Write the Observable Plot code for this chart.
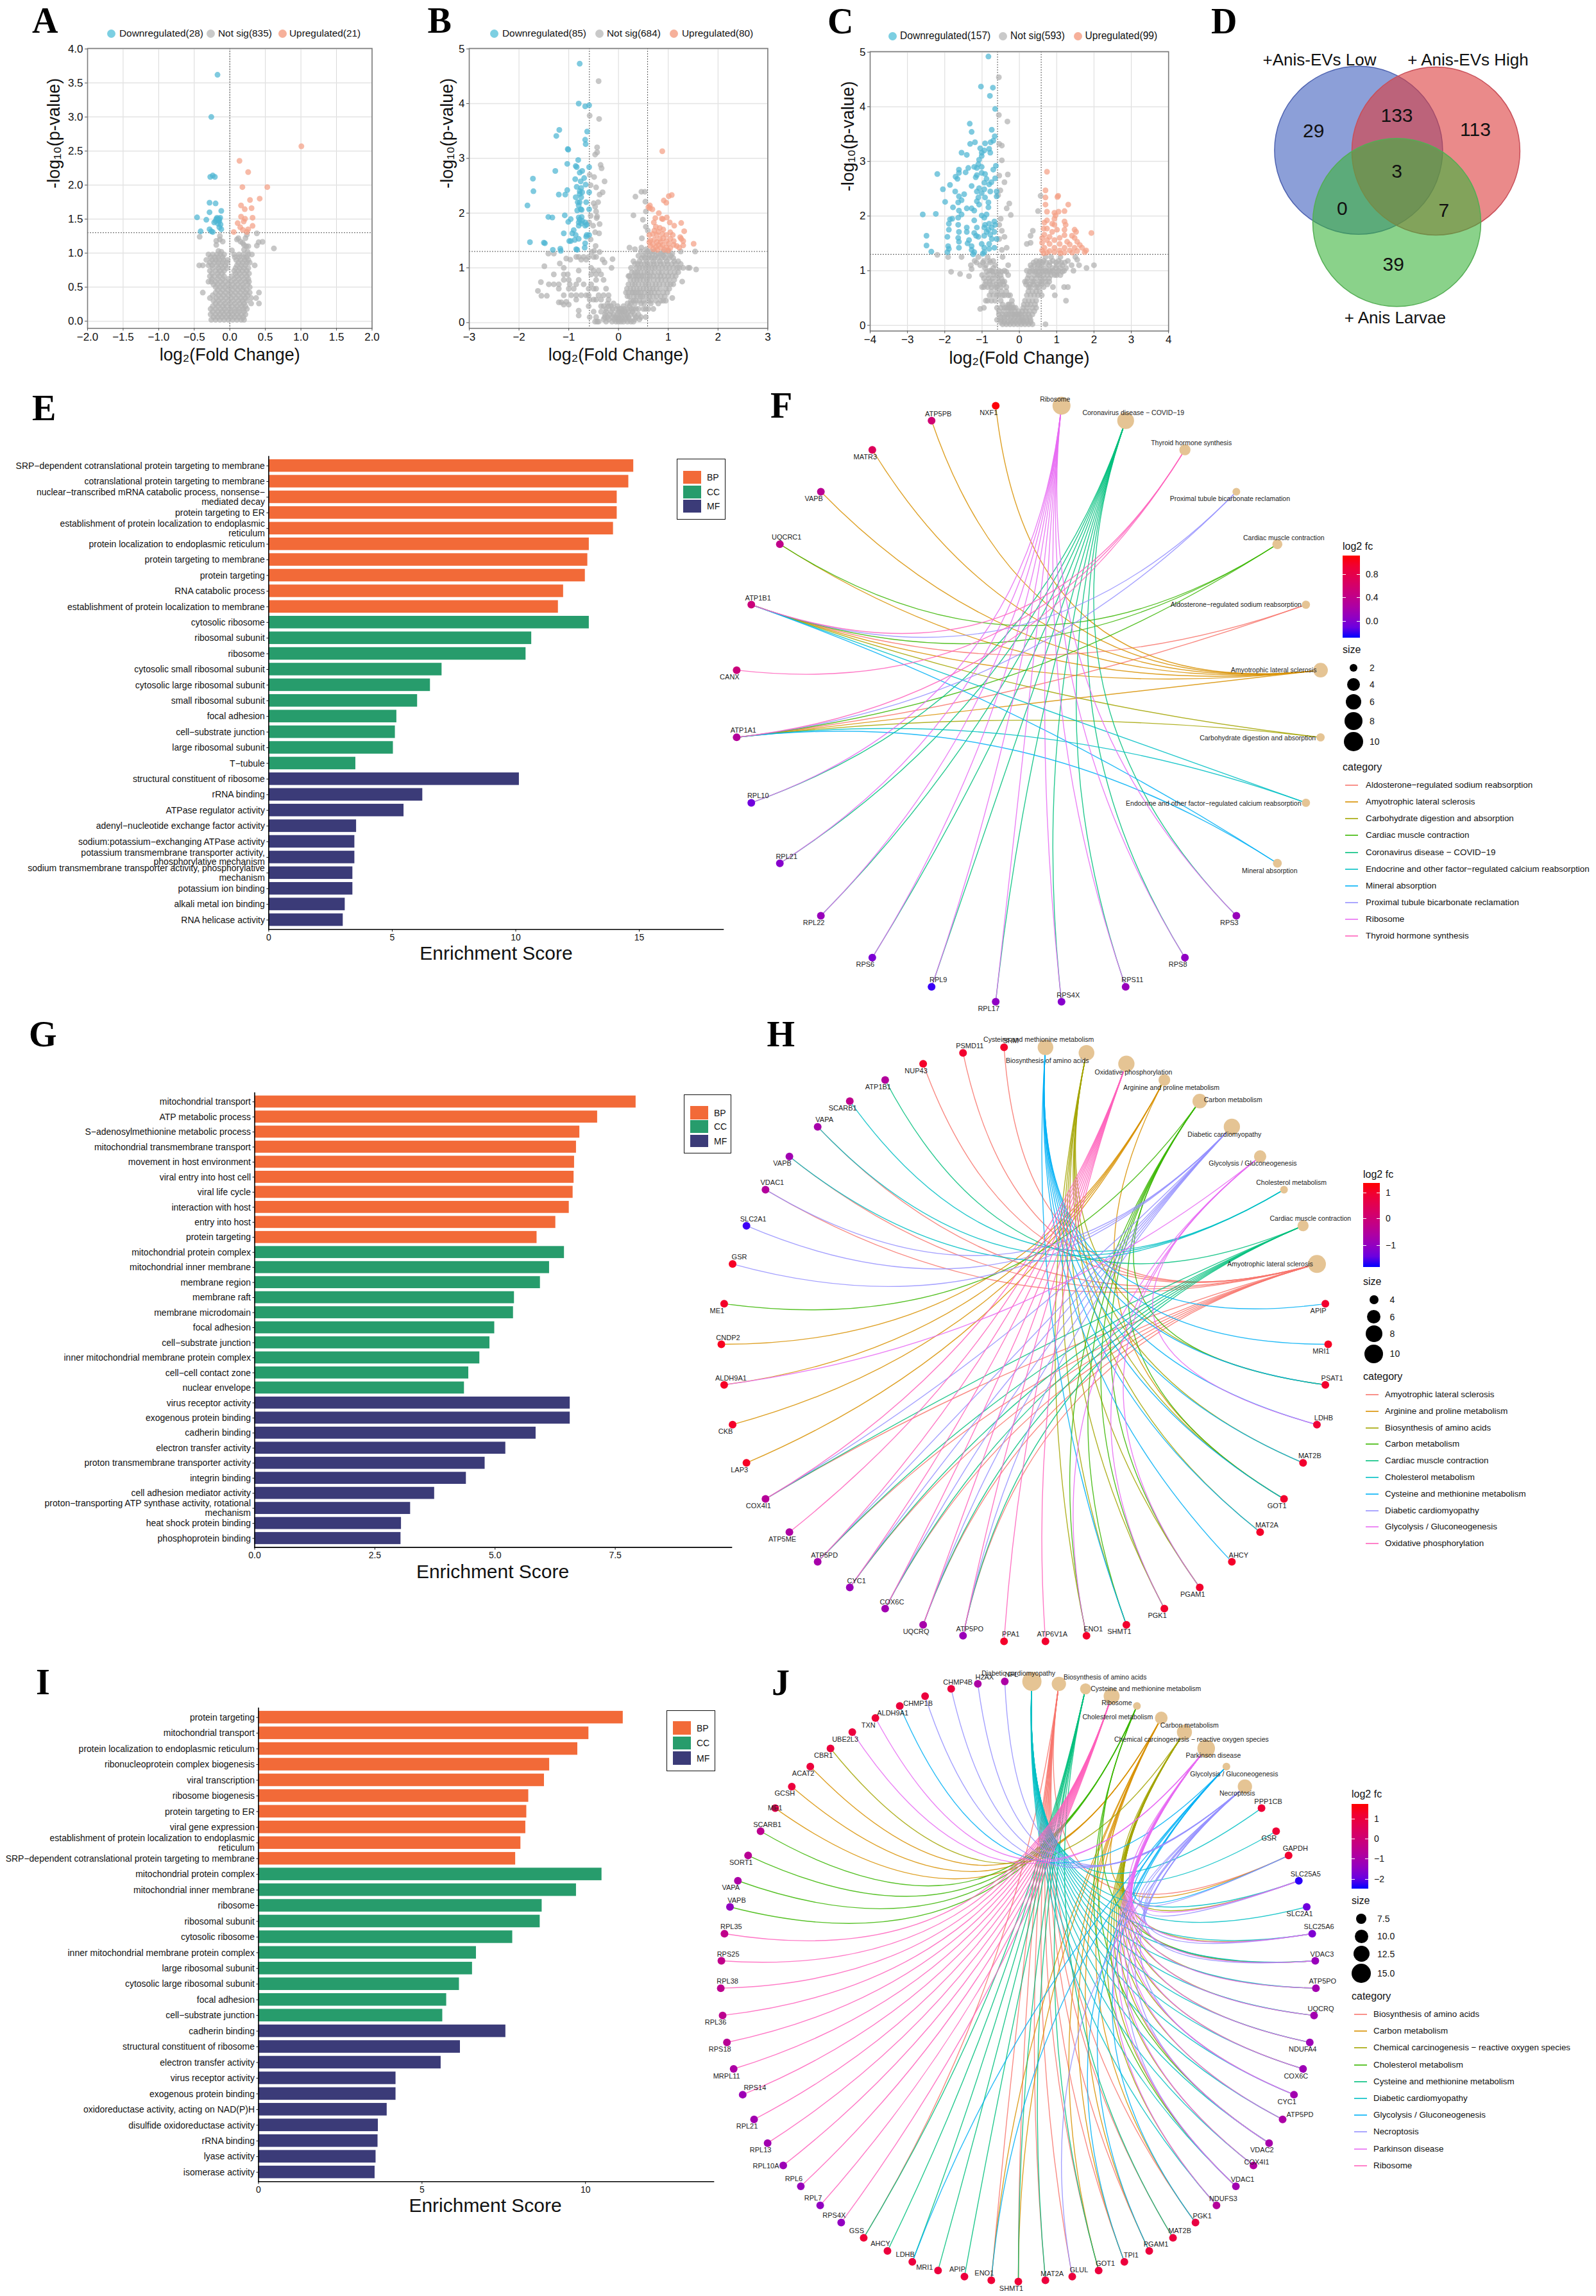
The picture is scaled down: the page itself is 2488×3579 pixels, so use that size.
<!DOCTYPE html>
<html><head><meta charset="utf-8">
<script src="https://cdn.jsdelivr.net/npm/d3@7"></script>
<script src="https://cdn.jsdelivr.net/npm/@observablehq/plot@0.6"></script>
<style>html,body{margin:0;background:#fff}#fig{position:relative;width:2488px;height:3579px;overflow:hidden;font-family:"Liberation Sans",Arial,sans-serif;color:#111}</style>
</head><body><div id="fig"></div>
<script>
// ---------- volcano data: flat x,y pairs ----------
const A_down=[-.173,3.62,-.26,3,-.275,2.12,-.24,2.14,-.21,2.12,-.285,1.74,-.2,1.73,-.285,1.6,-.12,1.62,-.46,1.525,-.33,1.49,-.18,1.52,-.135,1.52,-.2,1.47,-.147,1.47,-.17,1.5,-.22,1.45,-.165,1.43,-.13,1.42,-.147,1.38,-.12,1.35,-.41,1.32,-.285,1.35,-.26,1.32,-.24,1.31,-.16,1.48,-.19,1.5,-.15,1.5];
const A_up=[1.006,2.57,.136,2.355,.258,2.19,.177,1.97,.527,1.97,.42,1.8,.284,1.78,.158,1.7,.21,1.645,.306,1.66,.32,1.52,.158,1.535,.214,1.505,.195,1.465,.11,1.44,.147,1.38,.32,1.4,.184,1.34,.258,1.35,.24,1.31,.055,1.31];
const A_ns_sparse=[-.424,1.24,.38,1.29,.62,1.07,.38,1.11,.405,1.16,.46,1.165,.1,1.2,.12,1.22,.15,1.17,.18,1.15,.2,1.12,.23,1.1,.26,1.1,.22,1.22,.24,1.27,-.19,1.18,-.14,1.2,-.1,1.17,-.19,1.12,-.14,1.25,-.16,1.03,-.12,1.02,.03,1.04,.2,1.05,.25,1.02];
const A_ns_rows=[[.02,-.26,-.2,-.14,-.08,-.02,.04,.1,.16,.2],[.1,-.27,-.2,-.14,-.08,-.02,.04,.1,.16,.22],[.18,-.27,-.2,-.13,-.07,0,.07,.13,.19,.24],[.26,-.2,-.14,-.07,0,.07,.14,.2,.3,.41],[.34,-.28,-.19,-.12,-.05,.02,.09,.16,.22,.37,.3],[.42,-.38,-.2,-.13,-.06,.01,.08,.15,.22,.41,.28],[.5,-.2,-.14,-.07,0,.07,.14,.2,.28],[.58,-.3,-.26,-.2,-.13,-.06,.01,.08,.15,.22,.27],[.66,-.28,-.22,-.15,-.08,.03,.1,.17,.24],[.74,-.28,-.2,-.14,-.08,.06,.12,.18,.24],[.82,-.43,-.38,-.3,-.25,-.18,-.12,-.06,.1,.16,.22,.35],[.9,-.33,-.25,-.2,-.15,-.09,-.03,.09,.15,.21,.26],[.98,-.3,-.24,-.18,-.13,-.08,.06,.13,.19,.26,.31],
[.06,-.23,-.17,-.11,-.05,.01,.07,.13,.19],[.14,-.24,-.17,-.11,-.05,.01,.07,.13,.2],[.22,-.24,-.17,-.1,-.04,.03,.1,.17,.22],[.3,-.23,-.16,-.09,-.02,.05,.12,.18,.24],[.38,-.24,-.16,-.09,-.02,.05,.12,.19,.25],[.46,-.17,-.1,-.03,.04,.11,.18,.24],[.54,-.23,-.17,-.1,-.03,.04,.11,.18,.25],[.62,-.25,-.17,-.1,-.02,.06,.13,.2,.26],[.7,-.25,-.17,-.11,.08,.14,.21,.27],[.78,-.24,-.16,-.1,-.04,.08,.14,.2,.26],[.86,-.28,-.22,-.16,-.1,-.04,.12,.18,.24,.28],[.94,-.27,-.21,-.16,-.1,.07,.13,.2,.24]];

const B_down=[-.78,4.73,-.8,4,-.67,3.95,-.59,3.97,-1.19,3.52,-1.25,3.41,-.63,3.49,-.67,3.34,-.66,3.26,-1.02,3.17,-1.01,3.16,-.81,2.97,-1.03,2.9,-.86,2.86,-.84,2.84,-.59,2.84,-1.27,2.77,-.73,2.77,-.78,2.74,-1.72,2.63,-.87,2.62,-.69,2.64,-.76,2.58,-.66,2.52,-.84,2.48,-.75,2.46,-1.71,2.4,-1.03,2.42,-.59,2.38,-.78,2.4,-.73,2.38,-.78,2.35,-1.2,2.34,-1.07,2.34,-.86,2.29,-.75,2.29,-.78,2.2,-.65,2.2,-.82,2.2,-1.83,2.14,-.8,2.14,-.76,2.07,-.83,2.05,-.74,2.06,-.59,2.07,-1.41,1.93,-1.33,1.92,-1.08,1.96,-1.01,1.84,-.96,1.89,-.8,1.92,-.74,1.93,-.78,1.88,-.8,1.83,-.73,1.86,-.67,1.83,-.75,1.81,-.67,1.77,-.64,1.79,-.8,1.77,-.9,1.69,-1.1,1.63,-.93,1.63,-.86,1.6,-.64,1.6,-.59,1.6,-.65,1.57,-.99,1.49,-.96,1.49,-.88,1.51,-.8,1.53,-.67,1.45,-1.78,1.47,-1.5,1.46,-1.48,1.45,-.68,1.37,-.85,1.34,-.83,1.33,-1.17,1.35,-1.16,1.31,-1.32,1.33];
const B_up=[.88,3.13,1.07,2.33,1.01,2.31,.91,2.23,.96,2.19,.63,2.14,.6,2.11,.68,2.07,.63,2.09,.81,2,.97,1.92,.89,1.89,.87,1.9,.74,1.91,1.03,1.83,.71,1.83,1.12,1.77,1.26,1.82,1.32,1.67,.75,1.75,.83,1.73,.9,1.7,.72,1.68,.8,1.66,1.04,1.65,.69,1.62,.77,1.6,.88,1.62,.96,1.6,1.09,1.6,.62,1.6,1.24,1.56,1.26,1.53,1.3,1.49,1.11,1.49,1.04,1.53,.9,1.54,.83,1.53,.72,1.52,.64,1.5,.77,1.47,.85,1.47,.96,1.49,.62,1.47,.69,1.43,.8,1.42,.89,1.42,1.01,1.44,1.51,1.44,1.3,1.41,1.17,1.4,1.22,1.37,.75,1.38,.85,1.37,.96,1.38,1.04,1.36,.64,1.4,1.11,1.42,.7,1.34,.78,1.33,.92,1.33,1,1.32];
const B_ns_sparse=[-.4,4.41,-.58,3.78,-.39,3.72,-.43,3.2,-.43,3.11,-.47,3.07,-.36,2.88,-.34,2.82,-.58,2.7,-.49,2.66,-.28,2.58,-.56,2.51,-.45,2.47,-.32,2.38,-.38,2.34,-.5,2.18,-.41,2.2,-.47,2.12,-.45,2.03,-.43,1.94,-.44,1.91,-.56,1.95,-.59,1.83,-.51,1.77,-.38,1.8,-.47,1.65,-.39,1.63,-.56,1.52,-.46,1.4,-.49,1.31,-.38,1.29,-.54,1.29,.46,2.39,.53,2.39,.34,2.3,.54,2.21,.55,2.03,.3,1.96,.49,1.88,.55,1.75,.59,1.68,.47,1.54,.22,1.37,.33,1.34,.46,1.37,.56,1.34,-1.41,1.26,-1.3,1.26,-1.49,1.03,-1.56,.74,-1.62,.58,-1.55,.49,-1.44,.49,-1.18,1.08,-1.05,1.17,-.97,1.15,-.28,1.1,-.12,1.16,-.14,1,-1.15,.37,-1.2,.37,-1.1,.33,-1.05,.38,-1,.33,-.8,.22,-.8,.13,1.54,1.3,1.56,.97,1.43,1,1.28,.75,1.08,.45];
const B_ns_rows=[[1.2,-.85,-.8,-.7,-.6,-.5,-.45],[1.15,-.75,-.65,-.32],[1,-1.1,-.55],[.95,-.8,-.5,-.4],[.88,-1.3,-1.1,-1.02,-.55,-.35,-.45],[.78,-1.1,-1,-.8,-.45,-.3],[.7,-1.4,-1.3,-1.2,-.98,-.85,-.7,-.55],[.62,-1.2,-1,-.9,-.6,-.5,-.45,-.25],[.5,-1.1,-.95,-.85,-.75,-.65,-.6,-.4,-.3,-.2],[.42,-.85,-.58,-.5,-.45,-.35,-.2],[.3,-.6,-.35,-.3,-.2,-.15,-.02,.1,.22],[.2,-.5,-.35,-.25,-.15,0,.03,.08,.13,.2,.28],[.1,-.58,-.45,-.28,-.22,-.12,-.05,0,.05,.15,.2,.35,.45,.55],[.02,-.47,-.43,-.4,-.25,-.13,-.05,0,.05,.1,.18,.25,.3],[.25,.3,.35,.4,.5,.55,.6,.7],[.4,.25,.3,.35,.42,.5,.6,.65,.75,.85,.9,.95],[.55,.15,.2,.27,.3,.35,.4,.45,.52,.6,.65,.72,.8,.9,.98],[.7,.2,.28,.33,.4,.48,.55,.6,.68,.75,.82,.9,.98,1.05,1.1],[.85,.2,.22,.3,.35,.4,.46,.5,.58,.63,.7,.78,.85,.92,1,1.08,1.15],[1,.25,.36,.42,.48,.55,.6,.67,.73,.8,.88,.95,1.02,1.1,1.18,1.22,1.3,1.4],[1.12,.3,.42,.56,.7,.83,.97,1.12,1.2],[1.22,.5,.62,.75,.9,1.05,.4],[1.3,.65,.58,.72,.9,1,1.25,.45],
[.15,-.27,-.18,-.1,-.03,.06,.11,.17,.25,.32,.4],[.06,-.3,-.2,-.09,-.02,.03,.08,.14,.22,.33,.42],[.25,-.25,-.12,-.05,.02,.06,.12,.18,.26],[.35,-.22,-.1,.18,.25,.33,.45,.52,.65,.8],[.48,.18,.22,.31,.37,.44,.48,.56,.62,.69,.77,.85,.93],[.62,.17,.24,.3,.37,.43,.5,.56,.63,.69,.76,.84,.95,1.02],[.78,.24,.31,.37,.43,.5,.57,.62,.71,.79,.86,.94,1.02,1.12],[.92,.27,.33,.38,.44,.52,.58,.65,.72,.81,.87,.96,1.04,1.13,1.2],[1.07,.33,.39,.45,.52,.58,.64,.71,.77,.85,.91,.99,1.07,1.15,1.25],[1.18,.47,.53,.6,.66,.72,.79,.87,.94,1.02,1.1],[1.26,.55,.68,.8,.85,.95,1.08]];

const C_down=[-.83,4.92,-1.03,4.37,-.71,4.35,-.79,4.2,-.65,3.96,-1.33,3.69,-1.28,3.54,-.74,3.58,-.66,3.46,-.7,3.38,-.77,3.35,-1.19,3.35,-1.32,3.32,-.92,3.33,-1.05,3.24,-.94,3.2,-1.01,3.16,-.81,3.23,-.78,3.16,-1.55,3.16,-1.41,3.12,-1.01,3.1,-1.08,3.03,-1.1,2.95,-1.21,2.9,-1.14,2.88,-1.37,2.88,-1.62,2.85,-1.01,2.9,-.63,2.92,-.7,2.85,-1.44,2.8,-2.2,2.77,-1.62,2.79,-1.71,2.72,-1.66,2.68,-1.14,2.75,-1.01,2.79,-.92,2.77,-1.17,2.71,-.88,2.68,-.65,2.69,-.75,2.62,-.94,2.61,-.81,2.58,-1.86,2.57,-1.08,2.51,-1.28,2.55,-2.05,2.49,-1.72,2.45,-.94,2.49,-1.01,2.42,-.78,2.45,-.61,2.45,-1.14,2.45,-1.48,2.4,-1.62,2.36,-1.55,2.29,-1.1,2.34,-.92,2.34,-.61,2.36,-1.99,2.26,-1.64,2.25,-1.14,2.27,-.83,2.25,-1.78,2.16,-.83,2.16,-1.08,2.21,-2.59,2.03,-2.24,2.04,-1.41,2.14,-1.28,2.14,-1.62,2.1,-1.21,2.1,-1.55,2.03,-1.01,2.01,-.88,2.03,-1.64,1.97,-.94,1.97,-1.21,1.92,-1.86,1.94,-1.8,1.95,-1.89,1.86,-.67,1.9,-1.64,1.84,-.81,1.86,-.92,1.84,-.65,1.84,-.74,1.79,-1.89,1.75,-1.41,1.79,-1.14,1.79,-.94,1.79,-.83,1.75,-1.62,1.71,-1.41,1.71,-1.21,1.69,-.88,1.71,-.67,1.71,-1.16,1.64,-1.1,1.62,-.94,1.64,-.78,1.66,-2.49,1.64,-1.93,1.62,-1.64,1.6,-1.35,1.56,-.74,1.58,-.61,1.58,-1.62,1.53,-1.01,1.49,-.81,1.49,-2.49,1.46,-1.91,1.45,-1.39,1.5,-1.28,1.45,-1.89,1.4,-1.62,1.42,-.94,1.42,-.67,1.42,-2.36,1.35,-1.93,1.34,-1.28,1.38,-1.21,1.34,-.94,1.34,-.81,1.4,-1.24,1.3,-.98,1.31];
const C_up=[.74,2.81,.7,2.47,1.04,2.37,1.02,2.35,1.31,2.21,.7,2.34,.7,2.21,1.21,2.09,1.05,2.08,.94,2.06,.74,2.08,.97,2.01,.94,1.95,.74,1.92,1.21,1.9,.67,1.88,.88,1.86,1.24,1.84,.94,1.84,.65,1.77,1.48,1.75,1.52,1.71,1.93,1.69,.74,1.77,1.01,1.75,1.21,1.75,.88,1.71,.67,1.66,1.21,1.65,1.41,1.64,1.48,1.6,.81,1.62,1.08,1.6,.61,1.6,.74,1.56,.94,1.56,1.28,1.53,1.55,1.53,.61,1.51,.81,1.49,1.08,1.49,1.35,1.48,1.62,1.47,.67,1.42,.94,1.42,1.21,1.42,1.48,1.42,1.68,1.42,.61,1.37,.81,1.36,1.08,1.37,1.35,1.37,1.55,1.36,1.79,1.37,.74,1.33,1.21,1.33,1.75,1.34,.94,1.34,1.1,1.32,1.42,1.33,.65,1.32];
const C_ns_sparse=[-.55,4.54,-.55,3.85,-.32,3.73,-.54,3.32,-.47,3.29,-.47,3.02,-.31,2.76,-.54,2.74,-.4,2.62,-.51,2.47,-.57,2.38,.57,2.37,-.27,2.23,-.34,2.14,.5,2.09,-.23,2.02,-.5,1.95,-.54,1.84,-.47,1.73,-.4,1.62,-.54,1.58,.3,1.64,.36,1.73,.2,1.49,.3,1.51,-.34,1.42,-.47,1.38,-2.2,1.29,-1.91,1.25,-1.55,1.25,-1.83,.98,-1.59,.94,-1.28,1.03,-1.35,.9,2,1.1,1.8,1.05,1.6,1.1,1.55,1.2,1.25,.45,.7,.02,-1.05,.3];
const C_ns_rows=[[1.25,-1.1,-.85,-.45,.7,.85,1.1,1.5],[1.18,-1.2,-.95,-.8,-.7,.45,.55,.65,.9,1.05,1.3],[1.1,-1.3,-1.05,-.9,-.65,-.3,.3,.4,.5,.6,.8,1,1.15,1.4],[1,-.8,-.75,-.55,-.4,.2,.35,.45,.6,.7,.8,.9,1.05,1.2,1.45],[.92,-1,-.85,-.7,-.6,-.5,-.3,.25,.4,.5,.55,.65,.75,.85,.95,1,1.1],[.8,-.9,-.8,-.7,-.55,-.45,-.4,.15,.2,.35,.4,.55,.6,.7,.8],[.7,-1,-.95,-.85,-.75,-.65,-.6,-.5,-.35,.25,.3,.45,.5,.65,.9,1.2,1.3],[.55,-.8,-.7,-.6,-.55,-.45,-.4,-.3,-.25,.2,.3,.4,.5,.6,.95],[.45,-.9,-.85,-.75,-.65,-.5,-.2,.15,.25,.35,.45],[.32,-.95,-.6,-.5,-.4,-.35,-.3,-.25,-.2,-.15,-.1,.1,.2,.35,.45],[.2,-.55,-.45,-.35,-.3,-.2,-.15,-.1,-.05,0,.05,.15,.25,.35],[.1,-.6,-.5,-.4,-.25,-.15,-.05,.05,.1,.2,.3],[.02,-.45,-.35,-.25,-.15,-.05,.05,.15,.25,.35],
[.26,-.55,-.42,-.28,-.22,-.12,-.02,.08,.17,.27,.4],[.15,-.5,-.4,-.32,-.22,-.12,-.02,.07,.18,.28],[.06,-.5,-.4,-.3,-.2,-.1,0,.1,.2,.3],[.38,-.45,-.3,-.27,-.2,.12,.22,.3,.42],[.62,-.75,-.6,-.48,-.35,.24,.35,.45,.55],[.75,-.92,-.78,-.62,-.52,-.42,.18,.28,.38,.5,.6,.75],[.86,-.95,-.82,-.72,-.58,-.48,.22,.33,.45,.58,.68,.8],[.98,-.88,-.72,-.62,-.48,-.35,.28,.42,.52,.63,.75,.85,1,1.15],[1.05,-.92,-.7,.32,.48,.58,.72,.88,.98,1.1,1.25],[1.15,-1.15,-.98,-.78,.38,.52,.62,.72,.82,.98,1.12,1.22]];

// ---------- Venn ----------
const venn_sets=["+Anis-EVs Low","+ Anis-EVs High","+ Anis Larvae"];
const venn_counts=["29","133","113","3","0","7","39"];

// ---------- enrichment bars ----------
const E_terms=["SRP−dependent cotranslational protein targeting to membrane","cotranslational protein targeting to membrane","nuclear−transcribed mRNA catabolic process, nonsense−\nmediated decay","protein targeting to ER","establishment of protein localization to endoplasmic\nreticulum","protein localization to endoplasmic reticulum","protein targeting to membrane","protein targeting","RNA catabolic process","establishment of protein localization to membrane","cytosolic ribosome","ribosomal subunit","ribosome","cytosolic small ribosomal subunit","cytosolic large ribosomal subunit","small ribosomal subunit","focal adhesion","cell−substrate junction","large ribosomal subunit","T−tubule","structural constituent of ribosome","rRNA binding","ATPase regulator activity","adenyl−nucleotide exchange factor activity","sodium:potassium−exchanging ATPase activity","potassium transmembrane transporter activity,\nphosphorylative mechanism","sodium transmembrane transporter activity, phosphorylative\nmechanism","potassium ion binding","alkali metal ion binding","RNA helicase activity"];
const E_scores=[14.77,14.57,14.1,14.1,13.95,12.97,12.91,12.81,11.93,11.72,12.97,10.64,10.41,7.01,6.54,6.02,5.18,5.12,5.04,3.52,10.14,6.23,5.47,3.55,3.48,3.48,3.4,3.4,3.09,3.01];
const G_terms=["mitochondrial transport","ATP metabolic process","S−adenosylmethionine metabolic process","mitochondrial transmembrane transport","movement in host environment","viral entry into host cell","viral life cycle","interaction with host","entry into host","protein targeting","mitochondrial protein complex","mitochondrial inner membrane","membrane region","membrane raft","membrane microdomain","focal adhesion","cell−substrate junction","inner mitochondrial membrane protein complex","cell−cell contact zone","nuclear envelope","virus receptor activity","exogenous protein binding","cadherin binding","electron transfer activity","proton transmembrane transporter activity","integrin binding","cell adhesion mediator activity","proton−transporting ATP synthase activity, rotational\nmechanism","heat shock protein binding","phosphoprotein binding"];
const G_scores=[7.93,7.13,6.76,6.69,6.65,6.64,6.62,6.54,6.26,5.87,6.44,6.13,5.94,5.4,5.38,4.99,4.89,4.68,4.45,4.36,6.56,6.56,5.85,5.22,4.79,4.4,3.74,3.24,3.05,3.04];
const I_terms=["protein targeting","mitochondrial transport","protein localization to endoplasmic reticulum","ribonucleoprotein complex biogenesis","viral transcription","ribosome biogenesis","protein targeting to ER","viral gene expression","establishment of protein localization to endoplasmic\nreticulum","SRP−dependent cotranslational protein targeting to membrane","mitochondrial protein complex","mitochondrial inner membrane","ribosome","ribosomal subunit","cytosolic ribosome","inner mitochondrial membrane protein complex","large ribosomal subunit","cytosolic large ribosomal subunit","focal adhesion","cell−substrate junction","cadherin binding","structural constituent of ribosome","electron transfer activity","virus receptor activity","exogenous protein binding","oxidoreductase activity, acting on NAD(P)H","disulfide oxidoreductase activity","rRNA binding","lyase activity","isomerase activity"];
const I_scores=[11.15,10.1,9.76,8.9,8.74,8.26,8.2,8.17,8.02,7.86,10.5,9.72,8.67,8.61,7.77,6.66,6.54,6.14,5.75,5.63,7.56,6.17,5.58,4.2,4.2,3.93,3.66,3.65,3.59,3.56];
const ontology=["BP","CC","MF"];
const ontology_colors=["#F26A38","#279C6C","#3B3B78"];

// ---------- gene-concept networks (clockwise from the top) ----------
const hue=["#F8766D","#D89000","#A3A500","#39B600","#00BF7D","#00BFC4","#00B0F6","#9590FF","#E76BF3","#FF62BC"];
const F_legend=["Aldosterone−regulated sodium reabsorption","Amyotrophic lateral sclerosis","Carbohydrate digestion and absorption","Cardiac muscle contraction","Coronavirus disease − COVID−19","Endocrine and other factor−regulated calcium reabsorption","Mineral absorption","Proximal tubule bicarbonate reclamation","Ribosome","Thyroid hormone synthesis"];
const F_cats=["Ribosome","Coronavirus disease − COVID−19","Thyroid hormone synthesis","Proximal tubule bicarbonate reclamation","Cardiac muscle contraction","Aldosterone−regulated sodium reabsorption","Amyotrophic lateral sclerosis","Carbohydrate digestion and absorption","Endocrine and other factor−regulated calcium reabsorption","Mineral absorption"];
const F_sizes=[10,9,4,1,3,1.5,7,1.5,1.5,2];
const F_genes=["RPS3","RPS8","RPS11","RPS4X","RPL17","RPL9","RPS6","RPL22","RPL21","RPL10","ATP1A1","CANX","ATP1B1","UQCRC1","VAPB","MATR3","ATP5PB","NXF1"];
const F_fc=[.1,.05,.1,0,.05,-.25,-.05,.1,0,-.1,.3,.5,.5,.4,.35,.7,.55,1.1];
const F_links=["01","01","01","01","01","01","01","01","01","01","23456789","2","23456789","46","6","6","6","6"];

const H_legend=["Amyotrophic lateral sclerosis","Arginine and proline metabolism","Biosynthesis of amino acids","Carbon metabolism","Cardiac muscle contraction","Cholesterol metabolism","Cysteine and methionine metabolism","Diabetic cardiomyopathy","Glycolysis / Gluconeogenesis","Oxidative phosphorylation"];
const H_cats=["Cysteine and methionine metabolism","Biosynthesis of amino acids","Oxidative phosphorylation","Arginine and proline metabolism","Carbon metabolism","Diabetic cardiomyopathy","Glycolysis / Gluconeogenesis","Cholesterol metabolism","Cardiac muscle contraction","Amyotrophic lateral sclerosis"];
const H_sizes=[8,8,8.5,4.5,7,8.5,5,1,4,10];
const H_genes=["APIP","MRI1","PSAT1","LDHB","MAT2B","GOT1","MAT2A","AHCY","PGAM1","PGK1","SHMT1","ENO1","ATP6V1A","PPA1","ATP5PO","UQCRQ","COX6C","CYC1","ATP5PD","ATP5ME","COX4I1","LAP3","CKB","ALDH9A1","CNDP2","ME1","GSR","SLC2A1","VDAC1","VAPB","VAPA","SCARB1","ATP1B1","NUP43","PSMD11","SRM"];
const H_fc=[1,1.1,1,.9,1,1,1.05,1.05,1,1,1,1.05,1,1.05,-.9,-.7,-.8,-.9,-.7,-.6,-.45,1.1,1.05,1.1,1.15,1.05,1.1,-1.7,-.5,-.8,-.7,-.3,-.5,1.05,1,1.05];
const H_links=["0","0","014","06","01","0134","01","0","146","146","014","146","2","2","2589","2589","2589","2589","2589","2","2589","3","3","36","3","4","5","5","59","79","79","7","8","9","9","9"];

const J_legend=["Biosynthesis of amino acids","Carbon metabolism","Chemical carcinogenesis − reactive oxygen species","Cholesterol metabolism","Cysteine and methionine metabolism","Diabetic cardiomyopathy","Glycolysis / Gluconeogenesis","Necroptosis","Parkinson disease","Ribosome"];
const J_cats=["Diabetic cardiomyopathy","Biosynthesis of amino acids","Cysteine and methionine metabolism","Ribosome","Cholesterol metabolism","Carbon metabolism","Chemical carcinogenesis − reactive oxygen species","Parkinson disease","Glycolysis / Gluconeogenesis","Necroptosis"];
const J_sizes=[15,9,5,11,1,7,10,13,1,9];
const J_genes=["PPP1CB","GSR","GAPDH","SLC25A5","SLC2A1","SLC25A6","VDAC3","ATP5PO","UQCRQ","NDUFA4","COX6C","CYC1","ATP5PD","VDAC2","COX4I1","VDAC1","NDUFS3","PGK1","MAT2B","PGAM1","TPI1","GOT1","GLUL","MAT2A","SHMT1","ENO1","APIP","MRI1","LDHB","AHCY","GSS","RPS4X","RPL7","RPL6","RPL10A","RPL13","RPL21","RPS14","MRPL11","RPS18","RPL36","RPL38","RPS25","RPL35","VAPB","VAPA","SORT1","SCARB1","ME1","GCSH","ACAT2","CBR1","UBE2L3","TXN","ALDH9A1","CHMP1B","CHMP4B","H2AX","NFL"];
const J_fc=[1.1,1.1,1.2,-2.4,-1.9,-1.7,-1.3,-1.1,-1.1,-1.2,-1.2,-1.1,-.9,-1,-.8,-1.1,-.7,.9,1,1,1,1,1,1,1.1,1.1,1,1,1,1,1.1,-1.4,-1.4,-1.3,-1.2,-1.1,-1.1,-1.2,-.9,-.6,-.5,-.5,-.4,-.4,-1.4,-.9,-.6,-.5,.7,1,1,1,1,1.1,1,1,1,-.9,-.9];
const J_links=["0","0","1589","0679","0","0679","06794","067","067","067","067","0679","067","06794","067","06794","067","158","12","158","158","125","19","12","125","158","2","2","28","2","12","3","3","3","3","3","3","3","3","3","3","3","3","3","4","4","4","4","5","5","5","6","7","7","8","9","9","9","9"];

// ---------- layout config (label placement, not data) ----------
const U=[10.5,-10.5],D=[-11,11],L=[-11,-11],C=[0,0];
const F_sides=[D,D,U,U,D,U,D,D,U,U,U,D,U,U,D,D,U,D];
const F_catLabel=[[-10,-10],[12,-12],[10,-11],[-10,11],[10,-10],[-109,0],[-73,0],[-98,1],[-144,1],[-12,12]];
const H_sides=[D,D,U,U,U,D,U,U,D,D,D,U,U,U,U,D,U,U,U,D,D,D,D,U,U,D,U,U,U,D,U,D,D,D,U,U];
const H_catLabel=[[-10.6,-12],[-61,12],[11,13],[11,12],[52,-2],[-11.5,12.5],[-11.5,11],[11.5,-11],[11.5,-11],[-73,0]];
const J_sides=[U,D,U,U,D,U,U,U,U,D,D,D,[27,-7],D,[5,-5],U,U,U,U,U,U,U,U,U,D,L,L,[-21,-5],L,L,L,L,L,L,[-27,1],D,D,[19,-11],D,D,D,U,U,U,U,D,D,U,C,D,D,D,D,D,D,D,U,U,U];
const J_catLabel=[[-21,-12],[72,-10],[94,0],[8,11],[-30,17],[44,12],[11,12],[11,11],[12,12],[-12,11]];

// ---------- helpers ----------
const fig=document.getElementById("fig");
const SANS='"Liberation Sans",Arial,sans-serif';
const pairs=a=>{const o=[];for(let i=0;i<a.length;i+=2)o.push([a[i],a[i+1]]);return o};
const rows=r=>r.flatMap(([y,...xs])=>xs.map(x=>[x,y]));
function txt(x,y,s,size,o={}){const d=document.createElement("div");d.textContent=s;
 d.style.cssText=`position:absolute;left:${x}px;top:${y}px;font-size:${size}px;white-space:nowrap;line-height:1;transform:translate(${o.center?"-50%":"0"},-50%);${o.css||""}`;fig.append(d);return d}
function box(x,y,w,h,css){const d=document.createElement("div");d.style.cssText=`position:absolute;left:${x}px;top:${y}px;width:${w}px;height:${h}px;box-sizing:border-box;${css}`;fig.append(d);return d}
function letter(s,x,base){const d=document.createElement("div");d.textContent=s;d.style.cssText=`position:absolute;left:${x}px;top:${base-47}px;font:bold 56px/1 "Liberation Serif",serif;color:#000`;fig.append(d)}
const place=(left,top)=>({position:"absolute",left:left+"px",top:top+"px",maxWidth:"none",background:"transparent",overflow:"visible",fontFamily:SANS,color:"#111"});

function volcano(c){
 const pl=95,pr=30,pt=20,pb=70;
 const th=[1.3];
 const dot=(d,fill)=>Plot.dot(d,{x:"0",y:"1",r:4.5,fill,fillOpacity:.72});
 const p=Plot.plot({width:c.right-c.left+pl+pr,height:c.bottom-c.top+pt+pb,marginLeft:pl,marginRight:pr,marginTop:pt,marginBottom:pb,
  x:{domain:c.xd},y:{domain:c.yd},style:place(c.left-pl,c.top-pt),
  marks:[
   Plot.gridX(c.xt,{stroke:"#d9d9d9",strokeOpacity:1}),
   Plot.gridY(c.yt,{stroke:"#e4e4e4",strokeOpacity:1,strokeWidth:1.5}),
   Plot.ruleY(th,{stroke:"#555",strokeDasharray:"2,2",strokeWidth:1}),
   Plot.ruleX(c.v,{stroke:"#555",strokeDasharray:"2,2",strokeWidth:1}),
   dot(c.ns,"#b2b2b2"),dot(c.down,"#4DB6D3"),dot(c.up,"#F4A085"),
   Plot.frame({stroke:"#7c7c7c",strokeWidth:1.6}),
   Plot.axisX(c.xt,{tickFormat:c.xf,fontSize:c.fs,tickSize:4,tickPadding:3,label:null,stroke:"#555",fill:"#111"}),
   Plot.axisY(c.yt,{tickFormat:c.yf,fontSize:c.fs,tickSize:4,tickPadding:3,label:null,stroke:"#555",fill:"#111"}),
   Plot.text(["log₂(Fold Change)"],{frameAnchor:"bottom",lineAnchor:"middle",dy:42,fontSize:c.ls,fill:"#111"}),
   Plot.text(["-log₁₀(p-value)"],{frameAnchor:"left",rotate:-90,dx:c.ydx,fontSize:c.ls,fill:"#111"})
  ]});
 fig.append(p);
 const cols=["#7ccfe2","#c9c9c9","#f6b09a"];
 c.leg.forEach(([cx,tx,s],i)=>{box(cx-6.5,c.legY-6.5,13,13,`border-radius:50%;background:${cols[i]}`);txt(tx,c.legY,s,c.legFs)});
}

function bars(c){
 const pt=20,pb=75,pl=c.x0,pr=30;
 const H=c.yb-c.yt;
 const d=c.terms.map((t,i)=>({t,v:c.scores[i],o:i<c.nb?"BP":i<c.nb+c.nc?"CC":"MF"}));
 const p=Plot.plot({width:c.xEnd-c.x0+pl+pr,height:H+pt+pb,marginLeft:pl,marginRight:pr,marginTop:pt,marginBottom:pb,
  x:{domain:[0,c.max]},y:{domain:c.terms,padding:.2,align:.5,round:false},
  color:{domain:ontology,range:ontology_colors},style:place(0,c.yt-pt),
  marks:[
   Plot.barX(d,{x:"v",y:"t",fill:"o"}),
   Plot.frame({anchor:"left",stroke:"#000",strokeWidth:1.6}),
   Plot.frame({anchor:"bottom",stroke:"#000",strokeWidth:1.6}),
   Plot.axisX(c.ticks,{tickFormat:c.fmt,fontSize:14,tickSize:4,tickPadding:3,label:null,fill:"#111"}),
   Plot.axisY({fontSize:c.fs||14,tickSize:3,tickPadding:3,label:null,fill:"#111",lineHeight:1.05}),
   Plot.text(["Enrichment Score"],{frameAnchor:"bottom",lineAnchor:"middle",dy:38,dx:c.labelDx,fontSize:30,fill:"#111"})
  ]});
 fig.append(p);
 const [lx,ly,lw,lh,sy]=c.leg;
 box(lx,ly,lw,lh,"border:1.5px solid #111;background:#fff");
 ontology.forEach((o,i)=>{box(lx+10,sy[i],28,sy[i+3],`background:${ontology_colors[i]}`);txt(lx+47,sy[i]+sy[i+3]/2,o,14)});
}

function network(c){
 const pad=40,rx=c.rx,ry=c.ry,n=c.cats.length+c.genes.length;
 const cx=pad+rx,cy=pad+ry,k=.68;
 const arc=ctx=>{let pts=[];return{lineStart(){pts=[]},point(x,y){pts.push([x,y])},lineEnd(){const[[a,b],[e,f]]=pts;ctx.moveTo(a,b);
   ctx.bezierCurveTo(a+k*(cx-a),b+k*(cy-b),e+k*(cx-e),f+k*(cy-f),e,f)}}};
 const pos=i=>{const t=(i+.5)/n*2*Math.PI;return[Math.sin(t),Math.cos(t)]};
 const catNodes=c.cats.map((name,i)=>{const[x,y]=pos(i);return{name,x,y,size:c.sizes[i],lx:x+c.catLabel[i][0]/rx,ly:y-c.catLabel[i][1]/ry}});
 const geneNodes=c.genes.map((name,i)=>{const[x,y]=pos(i+c.cats.length);const s=c.sides[i];return{name,x,y,fc:c.fc[i],size:1,lx:x+s[0]/rx,ly:y-s[1]/ry,links:c.links[i]}});
 const edges=geneNodes.flatMap(g=>[...g.links].map(ch=>{const q=catNodes[+ch];return{x1:g.x,y1:g.y,x2:q.x,y2:q.y,cat:q.name}}));
 const edgeMarks=c.legend.map((name,i)=>Plot.link(edges.filter(e=>e.cat===name),{x1:"x1",y1:"y1",x2:"x2",y2:"y2",curve:arc,stroke:hue[i],strokeWidth:1.4,strokeOpacity:.85}));
 const p=Plot.plot({width:2*rx+2*pad,height:2*ry+2*pad,margin:pad,x:{domain:[-1,1],axis:null},y:{domain:[-1,1],axis:null},
  r:{type:"linear",domain:c.rDomain,range:c.rRange},
  color:{type:"linear",domain:c.fcDomain,range:["#0000ff","#ff0000"],interpolate:d3.interpolateLab},
  style:place(c.cx-rx-pad,c.cy-ry-pad),
  marks:[...edgeMarks,
   Plot.dot(geneNodes,{x:"x",y:"y",r:"size",fill:"fc"}),
   Plot.dot(catNodes,{x:"x",y:"y",r:"size",fill:"#E5C494"}),
   Plot.text(geneNodes,{x:"lx",y:"ly",text:"name",fontSize:11,fill:"#222"}),
   Plot.text(catNodes,{x:"lx",y:"ly",text:"name",fontSize:10.5,fill:"#222"})
  ]});
 fig.append(p);
 // legends
 const L=c.leg;
 txt(L.x,L.titleY,"log2 fc",16);
 const ramp=d3.interpolateLab("#ff0000","#0000ff");
 box(L.x,L.barY0,L.barW,L.barY1-L.barY0,`background:linear-gradient(${d3.range(9).map(i=>ramp(i/8)).join(",")})`);
 L.ticks.forEach(([s,y])=>{txt(L.x+L.barW+9,y,s,14);box(L.x,y,5,1,"background:#fff");box(L.x+L.barW-5,y,5,1,"background:#fff")});
 txt(L.x,L.sizeY,"size",16);
 L.dots.forEach(([s,y,r])=>{box(L.dotX-r,y-r,2*r,2*r,"border-radius:50%;background:#000");txt(L.dotX+25,y,s,14)});
 txt(L.x,L.catY,"category",16);
 c.legend.forEach((s,i)=>{const y=L.itemY+i*L.step;box(L.x+4,y-1,20,2,`background:${hue[i]};opacity:.8`);txt(L.x+L.textDx,y,s,13.4)});
}

// ---------- panel A-C ----------
const f1=d3.format(".1f"),f0=d3.format("d");
volcano({left:135.5,right:579,top:74.7,bottom:511,xd:[-2,2],yd:[-.105,4.007],xt:d3.range(-2,2.01,.5),yt:d3.range(0,4.01,.5),xf:f1,yf:f1,fs:17,ls:27,ydx:-52,v:[0],
 ns:[...pairs(A_ns_sparse),...rows(A_ns_rows)],down:pairs(A_down),up:pairs(A_up),legY:52,legFs:15.4,
 leg:[[173.5,186,"Downregulated(28)"],[328.6,340,"Not sig(835)"],[440,451,"Upregulated(21)"]]});
volcano({left:730.6,right:1196,top:74.7,bottom:511,xd:[-3,3],yd:[-.104,5.008],xt:[-3,-2,-1,0,1,2,3],yt:[0,1,2,3,4,5],xf:f0,yf:f0,fs:17,ls:27,ydx:-34,v:[-.585,.585],
 ns:[...pairs(B_ns_sparse),...rows(B_ns_rows)],down:pairs(B_down),up:pairs(B_up),legY:52,legFs:15.4,
 leg:[[770.6,783,"Downregulated(85)"],[934,946,"Not sig(684)"],[1050.6,1063,"Upregulated(80)"]]});
volcano({left:1356.3,right:1821.5,top:79.5,bottom:515,xd:[-4,4],yd:[-.104,5.009],xt:[-4,-3,-2,-1,0,1,2,3,4],yt:[0,1,2,3,4,5],xf:f0,yf:f0,fs:17,ls:27,ydx:-34,v:[-.585,.585],
 ns:[...pairs(C_ns_sparse),...rows(C_ns_rows)],down:pairs(C_down),up:pairs(C_up),legY:56,legFs:15.6,
 leg:[[1391.6,1403,"Downregulated(157)"],[1563,1575,"Not sig(593)"],[1680,1691.5,"Upregulated(99)"]]});

// ---------- panel D ----------
{const circles=[{x:-.455,y:.43,f:"#3f5fbe",s:"#4f63b0"},{x:.465,y:.42,f:"#dc3c3c",s:"#c8505a"},{x:0,y:-.43,f:"#3cb43c",s:"#55ad55"}];
 const cnt=[[-.99,.66],[0,.84],[.935,.67],[0,.18],[-.65,-.27],[.56,-.29],[-.04,-.93]].map(([x,y],i)=>({x,y,t:venn_counts[i]}));
 const lab=[[-.92,1.5],[.847,1.5],[-.02,-1.565]].map(([x,y],i)=>({x,y,t:venn_sets[i]}));
 fig.append(Plot.plot({width:480,height:480,margin:0,x:{domain:[-1.832,1.832],axis:null},y:{domain:[-1.832,1.832],axis:null},style:place(1936.5,50),
  marks:[...circles.map(c=>Plot.dot([c],{x:"x",y:"y",r:131,fill:c.f,fillOpacity:.6,stroke:c.s,strokeWidth:1.5})),
   Plot.text(cnt,{x:"x",y:"y",text:"t",fontSize:30,fill:"#111"}),
   Plot.text(lab,{x:"x",y:"y",text:"t",fontSize:26,fill:"#111"})]}));}

// ---------- panels E G I ----------
bars({terms:E_terms,scores:E_scores,nb:10,nc:10,x0:418.4,xEnd:1127,yt:711.4,yb:1448.6,max:18.4,ticks:[0,5,10,15],fmt:f0,labelDx:773-772.7,
 leg:[1055,715,76,95,[734,757,779,20,20,20]]});
bars({terms:G_terms,scores:G_scores,nb:10,nc:10,x0:396.5,xEnd:1140,yt:1703,yb:2411.6,max:9.92,ticks:[0,2.5,5,7.5],fmt:f1,labelDx:767.5-768.2,
 leg:[1066,1706,74,92,[1724,1746,1769,21,20,19]]});
bars({terms:I_terms,scores:I_scores,nb:10,nc:10,x0:402.5,xEnd:1112,yt:2661.7,yb:3400,max:13.92,ticks:[0,5,10],fmt:f0,labelDx:756-757.2,
 leg:[1039,2666,76,95,[2683,2707,2730,21,20,21]]});

// ---------- panels F H J ----------
network({cx:1602.5,cy:1096,rx:458,ry:467.5,cats:F_cats,sizes:F_sizes,catLabel:F_catLabel,genes:F_genes,fc:F_fc,sides:F_sides,links:F_links,legend:F_legend,
 rDomain:[1,10],rRange:[6,14],fcDomain:[-.3,1.12],
 leg:{x:2093,titleY:852,barY0:866,barY1:994,barW:27,ticks:[["0.8",895],["0.4",931],["0.0",967.5]],sizeY:1013,dotX:2110,dots:[["2",1041,6],["4",1067,10],["6",1094,12],["8",1124,14],["10",1156,15]],catY:1196,itemY:1224,step:26.15,textDx:36}});
network({cx:1596.5,cy:2095,rx:473,ry:464,cats:H_cats,sizes:H_sizes,catLabel:H_catLabel,genes:H_genes,fc:H_fc,sides:H_sides,links:H_links,legend:H_legend,
 rDomain:[1,10],rRange:[6,14],fcDomain:[-1.83,1.37],
 leg:{x:2125,titleY:1831,barY0:1844,barY1:1975,barW:26,ticks:[["1",1859],["0",1899],["−1",1941]],sizeY:1998,dotX:2141.6,dots:[["4",2026,7],["6",2052.5,10.5],["8",2079,13],["10",2110,14.5]],catY:2146,itemY:2174,step:25.8,textDx:34}});
network({cx:1587,cy:3088,rx:464,ry:468,cats:J_cats,sizes:J_sizes,catLabel:J_catLabel,genes:J_genes,fc:J_fc,sides:J_sides,links:J_links,legend:J_legend,
 rDomain:[1,15],rRange:[6,15],fcDomain:[-2.48,1.73],
 leg:{x:2107,titleY:2797,barY0:2812,barY1:2944,barW:26,ticks:[["1",2835],["0",2866],["−1",2897],["−2",2929]],sizeY:2963,dotX:2122,dots:[["7.5",2991,8],["10.0",3018,10.5],["12.5",3045.6,12.5],["15.0",3076,15]],catY:3112,itemY:3140,step:26.2,textDx:34}});

// ---------- panel letters ----------
[["A",50,51],["B",666.5,51],["C",1290,52],["D",1888,52],["E",50,654.6],["F",1201,650.6],["G",45,1630.5],["H",1195.6,1630.6],["I",56,2641],["J",1203,2642]].forEach(a=>letter(...a));
</script></body></html>
